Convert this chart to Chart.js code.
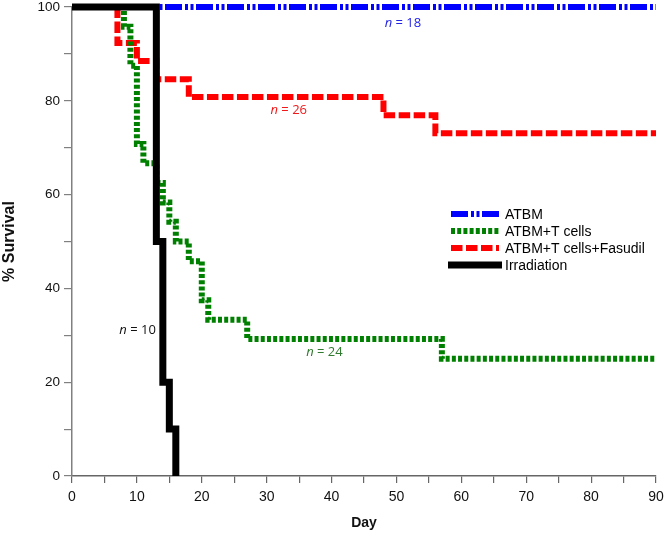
<!DOCTYPE html>
<html>
<head>
<meta charset="utf-8">
<script src="https://cdn.jsdelivr.net/npm/chart.js@4.4.0/dist/chart.umd.min.js"></script>
<style>
  html, body { margin: 0; padding: 0; background: #fff; }
  #wrap { width: 665px; height: 534px; position: relative; }
</style>
</head>
<body>
<div id="wrap"><canvas id="survivalChart"></canvas></div>
<script>
// Kaplan-Meier style survival curves (day of drop, % survival after the drop)
const seriesNames = ['ATBM', 'ATBM+T cells', 'ATBM+T cells+Fasudil', 'Irradiation'];
const atbmDays = [0, 90];
const atbmSurv = [100, 100];
const tcellDays = [0, 8, 9, 10, 11, 13, 14, 15, 16, 18, 20, 21, 27, 57, 90];
const tcellSurv = [100, 95.8, 87.5, 70.8, 66.7, 62.5, 58.3, 54.2, 50, 45.8, 37.5, 33.3, 29.2, 25, 25];
const fasudilDays = [0, 7, 10, 13, 18, 48, 56, 90];
const fasudilSurv = [100, 92.3, 88.5, 84.6, 80.8, 76.9, 73.1, 73.1];
const irradDays = [0, 13, 14, 15, 16];
const irradSurv = [100, 50, 20, 10, 0];

// group size notes, placed in data units
const groupSizes = ['18', '24', '26', '10'];
const noteDays = [51, 38.9, 33.4, 10.1];
const noteSurv = [96.6, 26.4, 78, 31.1];

const xTickLabels = [0, 10, 20, 30, 40, 50, 60, 70, 80, 90];
const yTickLabels = [0, 20, 40, 60, 80, 100];

const colors = ['#0000ff', '#008000', '#ff0000', '#000000'];
const noteColors = ['#2323e6', '#2f7a2f', '#f01818', '#111111'];
const dashes = [[17, 3, 3, 2.5, 3, 2.5], [4, 2.2], [11.5, 3.5], []];
const widths = [6, 6, 6, 7];
const drawOrder = [3, 1, 2, 0];

const toPoints = (days, surv) => days.map((d, i) => ({ x: d, y: surv[i] }));
const allDays = [atbmDays, tcellDays, fasudilDays, irradDays];
const allSurv = [atbmSurv, tcellSurv, fasudilSurv, irradSurv];

const legendPlugin = {
  id: 'lineLegend',
  afterDraw(chart) {
    const ctx = chart.ctx;
    const x0 = 451, y0 = 214, row = 17, len = 48;
    ctx.save();
    chart.data.datasets.forEach((ds, i) => {
      const y = y0 + i * row;
      ctx.beginPath();
      ctx.strokeStyle = ds.borderColor;
      ctx.lineWidth = ds.borderWidth;
      ctx.setLineDash(ds.borderDash);
      ctx.lineCap = 'butt';
      const ext = ds.borderDash.length ? 0 : 3;
      ctx.moveTo(x0 - ext, y);
      ctx.lineTo(x0 + len + ext, y);
      ctx.stroke();
      ctx.setLineDash([]);
      ctx.fillStyle = '#000';
      ctx.font = '14px "Liberation Sans", Arial, sans-serif';
      ctx.textBaseline = 'middle';
      ctx.textAlign = 'left';
      ctx.fillText(ds.label, x0 + len + 6, y + 1);
    });
    ctx.restore();
  }
};

const notePlugin = {
  id: 'groupNotes',
  afterDraw(chart) {
    const ctx = chart.ctx;
    const xs = chart.scales.x, ys = chart.scales.y;
    ctx.save();
    ctx.textBaseline = 'middle';
    groupSizes.forEach((n, i) => {
      const cx = xs.getPixelForValue(noteDays[i]);
      const cy = ys.getPixelForValue(noteSurv[i]);
      const italic = 'italic 13px "Open Sans", sans-serif';
      const plain = '13px "Open Sans", sans-serif';
      const rest = ' = ' + n;
      ctx.font = italic;
      const w1 = ctx.measureText('n').width;
      ctx.font = plain;
      const w2 = ctx.measureText(rest).width;
      const left = cx - (w1 + w2) / 2;
      ctx.fillStyle = noteColors[i];
      ctx.font = italic;
      ctx.fillText('n', left, cy);
      ctx.font = plain;
      ctx.fillText(rest, left + w1, cy);
    });
    ctx.restore();
  }
};

new Chart(document.getElementById('survivalChart').getContext('2d'), {
  type: 'line',
  data: {
    datasets: seriesNames.map((name, i) => ({
      label: name,
      data: toPoints(allDays[i], allSurv[i]),
      borderColor: colors[i],
      borderWidth: widths[i],
      borderDash: dashes[i],
      borderCapStyle: 'butt',
      borderJoinStyle: 'miter',
      stepped: true,
      fill: false,
      pointRadius: 0,
      clip: false,
      order: drawOrder[i]
    }))
  },
  options: {
    responsive: true,
    maintainAspectRatio: false,
    animation: false,
    layout: { padding: { top: 7, right: 9, bottom: 0, left: 0 } },
    plugins: {
      legend: { display: false },
      tooltip: { enabled: false }
    },
    scales: {
      x: {
        type: 'linear',
        min: 0,
        max: 90,
        afterFit(scale) {
          scale.height = 58;
          scale.paddingLeft = 0;
          scale.paddingRight = 0;
        },
        ticks: {
          stepSize: 5,
          autoSkip: false,
          maxRotation: 0,
          padding: 6,
          color: '#111',
          font: { family: '"Liberation Sans", Arial, sans-serif', size: 14 },
          callback: v => (xTickLabels.includes(v) ? v : '')
        },
        grid: { drawOnChartArea: false, drawTicks: true, tickLength: 7, color: '#666', lineWidth: 1.2 },
        border: { display: true, color: '#666', width: 1.5 },
        title: {
          display: true,
          text: 'Day',
          color: '#111',
          font: { family: '"Liberation Sans", Arial, sans-serif', size: 14, weight: 'bold' },
          padding: { top: 0, bottom: 2 }
        }
      },
      y: {
        min: 0,
        max: 100,
        afterFit(scale) {
          scale.width = 72;
          scale.paddingTop = 0;
          scale.paddingBottom = 0;
        },
        ticks: {
          stepSize: 10,
          autoSkip: false,
          padding: 4,
          color: '#111',
          font: { family: '"Liberation Sans", Arial, sans-serif', size: 13.5 },
          callback: v => (yTickLabels.includes(v) ? v : '')
        },
        grid: { drawOnChartArea: false, drawTicks: true, tickLength: 8, color: '#808080', lineWidth: 1.2 },
        border: { display: true, color: '#808080', width: 1.5 },
        title: {
          display: true,
          text: '% Survival',
          color: '#111',
          font: { family: '"Liberation Sans", Arial, sans-serif', size: 16, weight: 'bold' },
          padding: { top: 0, bottom: 0 }
        }
      }
    }
  },
  plugins: [legendPlugin, notePlugin]
});
</script>
</body>
</html>
